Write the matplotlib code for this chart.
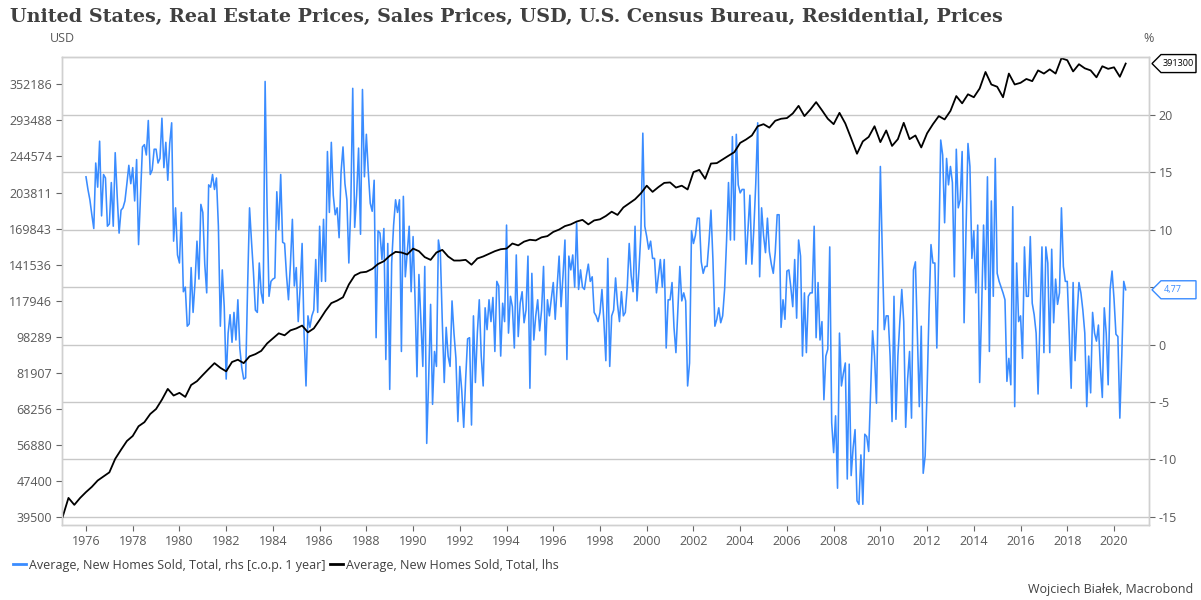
import numpy as np
import matplotlib
matplotlib.use('Agg')
import matplotlib.pyplot as plt
from matplotlib.patches import Polygon
from matplotlib.lines import Line2D

plt.rcParams['font.family'] = ['Open Sans', 'DejaVu Sans']

# Average price of new homes sold, USD, quarterly from 1975 Q1 (left axis, log)
price_start = 1975
price_k = [
    39.5, 43.5, 42.0, 43.5,      # 1975
    44.8, 46.0, 47.5, 48.5,      # 1976
    49.5, 53.0, 55.5, 58.0,      # 1977
    59.5, 62.5, 63.8, 66.5,      # 1978
    68.2, 71.5, 75.5, 73.0,      # 1979
    74.0, 72.5, 77.0, 78.5,      # 1980
    81.0, 83.5, 86.0, 84.0,      # 1981
    82.5, 86.5, 87.5, 86.0,      # 1982
    89.0, 90.0, 91.5, 95.0,      # 1983
    97.5, 100.0, 99.0, 101.5,    # 1984
    102.5, 104.0, 100.5, 102.5,  # 1985
    107.0, 112.0, 116.5, 118.0,  # 1986
    120.0, 128.0, 134.0, 136.0,  # 1987
    136.5, 138.5, 142.0, 144.0,  # 1988
    148.0, 151.0, 150.5, 149.0,  # 1989
    153.5, 151.5, 147.0, 145.0,  # 1990
    150.5, 152.5, 147.5, 144.5,  # 1991
    144.5, 145.0, 141.5, 146.0,  # 1992
    147.5, 149.5, 151.5, 153.0,  # 1993
    153.5, 157.5, 156.0, 159.0,  # 1994
    160.5, 160.0, 162.5, 163.5,  # 1995
    167.0, 169.0, 172.0, 173.5,  # 1996
    176.0, 177.5, 173.5, 177.0,  # 1997
    178.0, 181.0, 185.0, 182.0,  # 1998
    189.0, 193.0, 197.0, 203.0,  # 1999
    211.0, 204.5, 209.5, 214.0,  # 2000
    214.5, 209.0, 211.0, 207.0,  # 2001
    226.0, 228.5, 218.5, 236.0,  # 2002
    236.5, 241.0, 245.5, 250.0,  # 2003
    262.0, 266.5, 272.0, 285.0,  # 2004
    288.0, 283.0, 293.0, 296.0,  # 2005
    297.0, 304.0, 316.0, 300.0,  # 2006
    310.0, 322.0, 309.0, 296.0,  # 2007
    288.0, 305.0, 289.0, 268.0,  # 2008
    248.0, 264.0, 270.0, 285.0,  # 2009
    263.0, 279.0, 258.0, 267.0,  # 2010
    290.0, 267.0, 272.0, 256.0,  # 2011
    275.0, 288.0, 300.0, 295.0,  # 2012
    308.0, 332.0, 320.0, 335.0,  # 2013
    330.0, 345.0, 375.0, 352.0,  # 2014
    348.0, 330.0, 372.0, 352.0,  # 2015
    355.0, 362.0, 358.0, 378.0,  # 2016
    372.0, 380.0, 372.0, 402.0,  # 2017
    398.0, 376.0, 390.0, 382.0,  # 2018
    378.0, 365.0, 386.0, 381.0,  # 2019
    384.0, 366.0, 391.3,         # 2020
]

# Same series, % change over 1 year, monthly from Jan 1976 (right axis)
yoy_start = 1976
yoy_pct = [
    14.6, 13.5, 12.6, 11.3, 10.1, 15.8, 13.7, 17.7, 11.2, 14.8, 14.5, 10.3,  # 1976
    10.5, 14.1, 10.3, 16.7, 13.0, 9.7, 11.7, 11.9, 12.5, 14.0, 15.6, 14.0,   # 1977
    15.4, 12.5, 16.1, 8.7, 13.0, 17.2, 17.4, 16.5, 19.5, 14.8, 15.2, 17.0,   # 1978
    17.0, 15.8, 16.2, 19.7, 15.4, 17.6, 14.3, 17.5, 19.3, 9.0, 11.9, 7.8,    # 1979
    7.1, 11.5, 4.6, 5.0, 1.6, 1.8, 6.7, 2.8, 5.4, 9.0, 5.7, 12.2,            # 1980
    11.5, 7.0, 4.5, 13.9, 13.7, 14.8, 13.5, 14.5, 10.3, 1.6, 6.5, 3.3,       # 1981
    -3.0, 1.0, 2.6, 0.2, 2.8, 0.4, 3.9, -0.3, -2.0, -3.0, -2.9, 5.0,         # 1982
    11.9, 9.0, 6.3, 3.0, 2.8, 7.1, 4.5, 3.6, 22.9, 12.0, 4.2, 5.5,           # 1983
    5.7, 5.8, 13.3, 10.0, 14.8, 8.9, 8.8, 6.0, 3.9, 7.0, 10.9, 5.1,          # 1984
    6.7, 2.0, 5.0, 8.8, 1.0, -3.6, 2.5, 1.5, 2.5, 3.0, 7.4, 2.8,             # 1985
    10.3, 5.5, 10.9, 5.5, 16.8, 11.5, 17.6, 13.0, 11.3, 11.9, 9.3, 15.0,     # 1986
    17.2, 14.0, 12.6, 7.1, 12.0, 22.3, 10.2, 13.0, 17.1, 9.6, 22.2, 14.6,    # 1987
    18.3, 15.0, 12.3, 11.6, 14.3, 0.6, 9.9, 9.7, 7.4, 10.1, -1.3, 8.8,       # 1988
    -3.9, 7.1, 10.4, 12.6, 11.5, 12.6, -0.6, 12.9, 5.9, 8.0, 10.3, 4.6,      # 1989
    9.4, 4.0, -2.8, 6.1, 2.0, -1.9, 6.8, -8.6, -3.0, 3.5, -5.2, -0.6,        # 1990
    -1.9, 9.1, 8.0, 2.0, -3.3, 1.5, -1.0, -1.9, 3.8, 1.0, -1.2, -6.7,        # 1991
    -1.9, -4.0, -7.2, -3.0, 0.5, 0.6, -7.0, 2.5, -3.3, 1.0, 3.9, -1.0,       # 1992
    -3.6, 3.2, 1.3, 3.9, 2.0, 4.1, -0.6, 5.5, 5.1, -1.0, 3.6, 2.0,           # 1993
    10.4, 1.0, 4.2, 3.3, -0.3, 7.8, 0.7, 3.6, 4.6, 1.9, 3.0, 7.7,            # 1994
    -3.8, 6.2, 0.4, 2.5, 3.9, 1.2, 3.0, 6.8, -0.9, 3.9, 2.5, 4.0,            # 1995
    5.4, 2.2, 5.1, 7.7, 3.3, 6.0, 9.1, -1.3, 7.7, 6.5, 7.8, 5.0,             # 1996
    10.6, 4.8, 6.5, 5.0, 4.8, 6.0, 7.0, 5.5, 5.9, 2.8, 2.5, 2.0,             # 1997
    2.8, 4.8, 2.0, -1.4, 7.5, -1.9, 2.5, 3.0, 5.8, 3.5, 2.0, 4.6,            # 1998
    2.5, 2.8, 5.0, 8.8, 6.0, 4.6, 10.3, 3.8, 6.5, 9.7, 18.4, 10.3,           # 1999
    9.4, 8.3, 9.0, 7.5, 7.5, 4.5, 6.0, 7.4, 5.0, 7.4, -0.3, 3.9,             # 2000
    3.9, 5.4, 1.5, -0.7, 3.0, 6.8, 3.8, 4.5, 3.8, -3.6, -1.6, 9.9,           # 2001
    8.8, 9.5, 11.0, 11.0, 7.2, 6.2, 6.8, 6.8, 9.0, 11.7, 7.4, 1.6,           # 2002
    2.2, 3.2, 1.9, 2.5, 4.8, 9.0, 14.1, 9.1, 18.1, 9.1, 18.3, 13.9,          # 2003
    13.2, 13.5, 13.5, 7.0, 10.0, 13.0, 7.0, 10.0, 14.0, 19.3, 5.9, 11.9,     # 2004
    9.5, 8.0, 11.0, 8.1, 7.0, 6.2, 8.0, 11.3, 11.3, 1.5, 3.9, 2.2,           # 2005
    6.4, 6.5, 5.0, 3.3, 7.4, 2.3, 9.1, 7.7, -1.0, 4.5, -0.7, 4.2,            # 2006
    4.5, 4.5, 10.3, 0.6, 5.4, 0.4, 2.0, -4.8, -1.0, -0.4, 8.5, -6.8,         # 2007
    -9.4, -6.2, -12.5, 1.0, -3.6, -2.5, -1.6, -11.7, -1.7, -11.4, -9.0, -7.4,  # 2008
    -13.6, -13.9, -9.6, -13.9, -7.8, -8.0, -9.3, -4.0, 1.2, -1.0, -5.1, 5.0,   # 2009
    15.5, 8.0, 1.3, 2.5, 2.5, -1.0, -6.7, 4.2, -6.5, -1.0, 2.0, 4.8,         # 2010
    2.0, -7.2, -3.0, -0.6, -6.4, 6.5, 7.2, 1.0, -5.4, 1.6, -11.2, -9.7,      # 2011
    -4.0, 3.0, 8.7, 7.1, 7.1, -0.3, 8.0, 17.8, 16.5, 10.6, 16.2, 13.9,       # 2012
    15.5, 14.1, 5.9, 17.0, 11.9, 12.6, 16.8, 1.9, 10.0, 17.5, 15.5, 7.5,     # 2013
    9.9, 4.5, 10.4, -3.3, 3.0, 10.4, 4.8, 14.6, -0.6, 12.5, 4.2, 16.2,       # 2014
    6.2, 5.5, 5.0, 4.5, 3.9, -3.2, -1.2, -3.5, 12.0, -5.4, 7.1, 2.0,         # 2015
    2.5, -1.2, 8.5, 4.2, 4.2, 9.4, 3.6, 2.6, 1.0, -4.3, 2.0, 8.5,            # 2016
    -0.7, 8.5, 7.1, -0.7, 8.3, 1.9, 5.7, 3.5, 4.5, 11.9, 6.8, 5.5,           # 2017
    5.5, 1.0, -3.8, 5.4, -1.4, 2.5, 5.4, 4.5, 3.0, 1.0, -5.4, -1.0,          # 2018
    -4.2, 2.8, 1.0, 0.3, 1.7, -2.0, -4.6, 3.2, 1.0, -3.5, 4.8, 6.4,          # 2019
    4.0, 0.9, 0.7, -6.4, -1.0, 5.5, 4.77,                                    # 2020
]

left_ticks = [39500, 47400, 56880, 68256, 81907, 98289, 117946,
              141536, 169843, 203811, 244574, 293488, 352186]
right_ticks = [-15, -10, -5, 0, 5, 10, 15, 20]
year_ticks = list(range(1976, 2021, 2))

title = 'United States, Real Estate Prices, Sales Prices, USD, U.S. Census Bureau, Residential, Prices'
label_yoy = 'Average, New Homes Sold, Total, rhs [c.o.p. 1 year]'
label_price = 'Average, New Homes Sold, Total, lhs'
credit = 'Wojciech Białek, Macrobond'

BLUE = '#3a8cff'
GRID = '#c8c8c8'
TXT = '#595959'

W, H = 1201, 600
fig = plt.figure(figsize=(W / 100, H / 100), dpi=100)
rect = [62 / W, 1 - 525 / H, (1149 - 62) / W, (525 - 57.3) / H]

ax = fig.add_axes(rect)          # right axis, percent
axl = ax.twinx()                 # left axis, log USD

x_yoy = yoy_start + np.arange(len(yoy_pct)) / 12.0
x_price = price_start + np.arange(len(price_k)) * 0.25
price = np.array(price_k) * 1000

ax.plot(x_yoy, yoy_pct, color=BLUE, lw=1.15)
axl.plot(x_price, price, color='black', lw=1.3)

ax.set_xlim(1974.973, 2021.498)
ax.set_ylim(-15.7, 25)
axl.set_yscale('log')
axl.set_ylim(37930, 403900)

# right axis
ax.yaxis.tick_right()
ax.set_yticks(right_ticks)
ax.set_yticklabels([str(v) if v != 5 else '' for v in right_ticks])
ax.yaxis.grid(True, color=GRID, lw=1)
ax.set_axisbelow(True)

# left axis
axl.yaxis.tick_left()
axl.set_yticks(left_ticks)
axl.set_yticklabels([str(v) for v in left_ticks])
axl.yaxis.set_minor_locator(matplotlib.ticker.NullLocator())

ax.set_xticks(year_ticks)
ax.set_xticklabels([str(y) for y in year_ticks])

for a in (ax, axl):
    a.tick_params(axis='both', colors='#666666', labelcolor=TXT, labelsize=9,
                  length=4, width=0.8, pad=3)
    for s in a.spines.values():
        s.set_color('#d0d0d0')
        s.set_linewidth(1)
ax.spines['top'].set_color(GRID)

fig.text(10 / W, 1 - 17 / H, title, family='DejaVu Serif', weight='bold',
         fontsize=13.8, color='#404040', va='center', ha='left')
fig.text(62 / W, 1 - 38 / H, 'USD', fontsize=9, color=TXT, ha='center', va='center')
fig.text(1149 / W, 1 - 38 / H, '%', fontsize=9, color=TXT, ha='center', va='center')

handles = [Line2D([], [], color=BLUE, lw=2), Line2D([], [], color='black', lw=2)]
fig.legend(handles, [label_yoy, label_price], loc='center left',
           bbox_to_anchor=(2 / W, 1 - 565 / H), ncol=2, frameon=False,
           fontsize=9, handlelength=1.0, handletextpad=0.25, columnspacing=0.4,
           labelcolor='#404040')
fig.text(1193 / W, 1 - 590 / H, credit, fontsize=9, color='#404040',
         ha='right', va='center')


# value tags at the right edge
def value_tag(axis, yval, text, color, text_center):
    _, yd = axis.transData.transform((x_yoy[-1], yval))
    x0 = 1152
    pts = [(x0, yd), (x0 + 9, yd + 9), (x0 + 44, yd + 9), (x0 + 44, yd - 9),
           (x0 + 9, yd - 9)]
    pts = [(px / W, py / H) for px, py in pts]
    fig.patches.append(Polygon(pts, closed=True, transform=fig.transFigure,
                               facecolor='white', edgecolor=color, lw=1))
    if text_center:
        fig.text((x0 + 26.5) / W, yd / H, text, fontsize=6.5, color=color,
                 ha='center', va='center')
    else:
        fig.text((x0 + 12) / W, yd / H, text, fontsize=6.5, color=color,
                 ha='left', va='center')


value_tag(axl, price[-1], '391300', 'black', True)
value_tag(ax, yoy_pct[-1], '4,77', BLUE, False)

fig.savefig('out.png', dpi=100)
